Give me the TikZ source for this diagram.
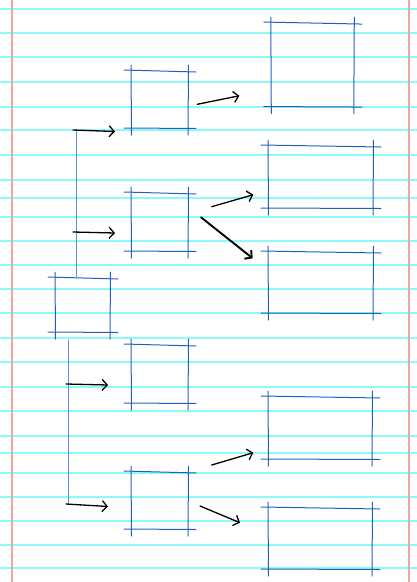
\documentclass[tikz,border=0pt]{standalone}
\usetikzlibrary{arrows.meta}
\definecolor{ruleline}{RGB}{140,250,250}
\definecolor{marginline}{RGB}{240,165,165}
\definecolor{penblue}{RGB}{35,95,185}
\begin{document}
\begin{tikzpicture}[x=1pt,y=-1pt,>={Straight Barb[length=5pt,width=11pt]},
  sketchbox/.style={draw=none,inner sep=0pt,outer sep=0pt},
  pen/.style={draw=penblue,line width=1pt,line cap=round},
  arr/.style={->,line width=1.3pt,line cap=round}]
\useasboundingbox (0,0) rectangle (417,582);
\foreach \y in {9,33,57,82,107,130,155,180,198,217,241,265,289,313,338,362,387,411,436,453,473,497,521,545,568}
  \draw[ruleline,line width=1.3pt] (0,\y) -- (417,\y);
\draw[marginline,line width=1.3pt] (12,0) -- (12,582);
\draw[marginline,line width=1.3pt] (409,0) -- (409,582);
\node[sketchbox,minimum width=55pt,minimum height=54pt] (root) at (82.5,305) {};
\node[sketchbox,minimum width=57pt,minimum height=57pt] (mid1) at (159.5,99.5) {};
\node[sketchbox,minimum width=57pt,minimum height=58pt] (mid2) at (159.5,222) {};
\node[sketchbox,minimum width=57pt,minimum height=58pt] (mid3) at (159.5,374) {};
\node[sketchbox,minimum width=57pt,minimum height=57pt] (mid4) at (159.5,500.5) {};
\node[sketchbox,minimum width=83pt,minimum height=83.5pt] (out1) at (312.3,64.8) {};
\node[sketchbox,minimum width=105pt,minimum height=62pt] (out2) at (320.5,177) {};
\node[sketchbox,minimum width=105pt,minimum height=61pt] (out3) at (320.5,282.5) {};
\node[sketchbox,minimum width=104pt,minimum height=62pt] (out4) at (320,428) {};
\node[sketchbox,minimum width=104pt,minimum height=61pt] (out5) at (320,538.5) {};
\foreach \n in {root,mid1,mid2,mid3,mid4,out1,out2,out3,out4,out5}{
  \draw[pen] ([shift={(-7,-1)}]\n.north west) -- ([shift={(8,1)}]\n.north east);
  \draw[pen] ([shift={(-7,0)}]\n.south west) -- ([shift={(8,0.5)}]\n.south east);
  \draw[pen] ([shift={(0,-6)}]\n.north west) -- ([shift={(0.5,7)}]\n.south west);
  \draw[pen] ([shift={(0.5,-6)}]\n.north east) -- ([shift={(0,7)}]\n.south east);
}
\draw[pen,draw=penblue!70,line width=0.8pt] ([xshift=21pt]root.north west) -- ([shift={(-55,2)}]mid1.south west);
\draw[pen,draw=penblue!70,line width=0.8pt] ([shift={(13,8)}]root.south west) -- ([shift={(-63,-25)}]mid4.south west);
\draw[arr] ([shift={(-58,2)}]mid1.south west) -- ([shift={(-16,3.5)}]mid1.south west);
\draw[arr] ([shift={(-58,-19)}]mid2.south west) -- ([shift={(-16,-18)}]mid2.south west);
\draw[arr] ([shift={(-65,-19)}]mid3.south west) -- ([shift={(-23,-18)}]mid3.south west);
\draw[arr] ([shift={(-65,-25)}]mid4.south west) -- ([shift={(-23,-22.5)}]mid4.south west);
\draw[arr] ([shift={(9.3,4.8)}]mid1.east) -- ([shift={(-31.4,-10.8)}]out1.south west);
\draw[arr] ([shift={(23.7,-15.3)}]mid2.east) -- ([shift={(-14.7,17.7)}]out2.west);
\draw[arr,line width=1.9pt] ([shift={(13,-4.7)}]mid2.east) -- ([shift={(-15.3,6.3)}]out3.north west);
\draw[arr] ([shift={(23.7,-7)}]mid4.north east) -- ([shift={(-14.7,-6.3)}]out4.south west);
\draw[arr] ([shift={(12,5.5)}]mid4.east) -- ([shift={(-28,-15.8)}]out5.west);
\end{tikzpicture}
\end{document}
